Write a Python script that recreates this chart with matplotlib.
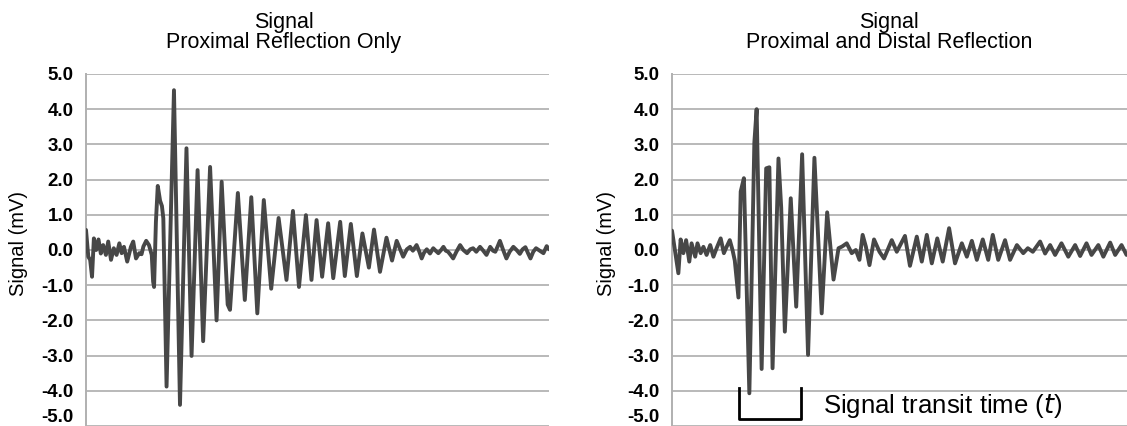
import matplotlib
matplotlib.use("Agg")
import matplotlib.pyplot as plt

plt.rcParams['font.family'] = ['Liberation Sans', 'DejaVu Sans']

# time axis (arbitrary units, 0-100 across the plot) and signal in mV
prox_t = [0.0, 0.5, 0.9, 1.3, 1.7, 2.2, 2.7, 3.2, 3.7, 4.3, 4.8, 5.4, 6.0, 6.6, 7.2, 7.7,
          8.2, 8.9, 9.7, 10.2, 10.8, 11.5, 12.0, 12.4, 13.0, 13.6, 14.2, 14.5, 14.7, 15.1,
          15.5, 16.0, 16.4, 16.7, 17.4, 19.0, 20.3, 21.7, 22.8, 24.1, 25.3, 26.8, 28.2,
          29.3, 30.6, 31.1, 32.8, 34.3, 35.7, 37.0, 38.4, 40.0, 41.6, 43.3, 44.7, 46.0,
          47.5, 48.7, 49.8, 51.0, 52.3, 53.4, 54.9, 55.9, 57.2, 58.5, 59.7, 61.1, 62.2,
          63.5, 64.9, 66.1, 67.1, 68.5, 69.3, 70.0, 70.6, 71.4, 72.0, 72.5, 73.0, 73.6,
          74.3, 75.0, 75.6, 76.1, 76.7, 77.2, 77.7, 78.2, 78.8, 79.3, 80.0, 80.8, 81.5,
          82.3, 83.0, 83.6, 84.3, 85.1, 85.8, 86.5, 87.3, 87.9, 88.4, 88.9, 89.4, 90.1,
          90.8, 91.5, 92.3, 93.0, 93.7, 94.3, 94.9, 95.5, 96.0, 96.6, 97.2, 98.0, 98.8,
          99.5, 100.0]
prox_mv = [0.57, -0.19, -0.28, -0.76, 0.33, 0.0, 0.30, -0.10, 0.14, -0.14, 0.24, -0.28,
           0.05, -0.14, 0.19, -0.09, 0.09, -0.33, 0.09, 0.24, -0.24, -0.09, -0.12, 0.10,
           0.26, 0.14, -0.14, -0.90, -1.05, 0.80, 1.82, 1.40, 1.25, 0.90, -3.88, 4.54,
           -4.40, 2.89, -3.01, 2.27, -2.59, 2.36, -2.00, 1.94, -1.55, -1.70, 1.62, -1.42,
           1.50, -1.80, 1.42, -1.10, 0.91, -0.85, 1.11, -1.05, 0.99, -0.85, 0.85, -0.76,
           0.76, -0.80, 0.80, -0.74, 0.74, -0.74, 0.47, -0.50, 0.58, -0.62, 0.35, -0.30,
           0.26, -0.19, 0.02, 0.09, -0.02, 0.14, -0.05, -0.24, -0.08, 0.02, -0.10, 0.05,
           -0.03, -0.09, 0.0, 0.09, -0.02, -0.05, -0.15, -0.24, -0.05, 0.14, 0.0, -0.09,
           0.02, 0.05, -0.05, 0.09, -0.02, -0.14, 0.09, -0.02, -0.05, 0.10, 0.26, 0.0,
           -0.24, -0.05, 0.09, 0.0, -0.11, 0.02, 0.08, -0.10, -0.24, -0.05, 0.05, -0.02,
           -0.09, 0.11, 0.02]

dist_t = [0.0, 1.4, 1.9, 2.5, 3.1, 3.8, 4.3, 5.1, 5.6, 6.3, 6.9, 7.6, 8.4, 9.1, 9.8, 10.7,
          11.4, 12.0, 12.7, 13.3, 13.8, 14.6, 15.1, 15.8, 17.0, 18.1, 18.6, 19.7, 20.7,
          21.4, 22.1, 23.4, 24.0, 24.8, 26.1, 27.3, 28.6, 29.9, 31.3, 32.9, 34.1, 35.5,
          36.6, 37.4, 38.4, 39.5, 40.4, 41.2, 41.9, 42.6, 43.4, 44.4, 45.6, 46.6, 48.3,
          49.4, 51.2, 52.3, 53.8, 54.9, 56.0, 57.1, 58.3, 59.5, 60.9, 62.2, 63.7, 64.8,
          65.9, 67.0, 68.3, 69.5, 70.5, 71.7, 73.2, 74.3, 75.8, 77.2, 78.2, 79.3, 80.9,
          82.0, 83.1, 84.2, 85.6, 87.1, 88.6, 89.7, 91.1, 92.2, 93.7, 94.8, 96.3, 97.4,
          98.8, 99.9]
dist_mv = [0.55, -0.66, 0.30, -0.09, 0.28, -0.33, 0.19, -0.19, 0.19, -0.09, 0.09, -0.14,
           0.14, -0.19, 0.05, 0.33, -0.09, 0.09, 0.28, 0.0, -0.30, -1.35, 1.66, 2.04,
           -4.07, 3.05, 4.00, -3.38, 2.32, 2.35, -3.36, 2.60, 1.20, -2.32, 1.47, -1.61,
           2.72, -2.98, 2.62, -1.80, 1.07, -0.84, 0.05, 0.10, 0.19, -0.09, 0.0, -0.28,
           0.43, 0.10, -0.43, 0.30, -0.05, -0.24, 0.28, -0.05, 0.40, -0.45, 0.38, -0.33,
           0.43, -0.38, 0.33, -0.33, 0.62, -0.38, 0.19, -0.19, 0.26, -0.28, 0.30, -0.28,
           0.43, -0.28, 0.28, -0.28, 0.14, -0.09, 0.05, -0.05, 0.24, -0.10, 0.14, -0.14,
           0.19, -0.19, 0.14, -0.17, 0.19, -0.14, 0.14, -0.19, 0.21, -0.14, 0.14, -0.14]

y_ticks = [-5, -4, -3, -2, -1, 0, 1, 2, 3, 4, 5]
y_ticklabels = ['%.1f' % v for v in y_ticks]

transit_start, transit_end = 14.7, 28.4
bracket_top, bracket_bottom = -3.92, -4.80

line_color = '#474747'
grid_color = '#b9b9b9'

fig = plt.figure(figsize=(11.27, 4.26), dpi=100)
ax1 = fig.add_axes([86 / 1127, 0.0, 463 / 1127, 352 / 426])
ax2 = fig.add_axes([672 / 1127, 0.0, 455 / 1127, 352 / 426])

panels = [
    (ax1, prox_t, prox_mv, 'Proximal Reflection Only', 284, 19),
    (ax2, dist_t, dist_mv, 'Proximal and Distal Reflection', 889, 606),
]

for ax, t, mv, subtitle, title_x, ylab_x in panels:
    for v in y_ticks:
        ax.axhline(v, color=grid_color, linewidth=1.4, zorder=1)
    ax.plot(t, mv, color=line_color, linewidth=2.8, zorder=3,
            solid_joinstyle='round', solid_capstyle='round')
    ax.set_xlim(0, 100)
    ax.set_ylim(-5, 5)
    ax.set_xticks([])
    ax.set_yticks(y_ticks)
    ax.set_yticklabels(y_ticklabels, fontsize=13.5, fontweight='bold')
    ax.tick_params(axis='y', length=0, pad=9)
    for side in ['top', 'right', 'bottom']:
        ax.spines[side].set_visible(False)
    ax.spines['left'].set_color('#b0b0b0')
    ax.spines['left'].set_linewidth(1.4)
    ax.get_yticklabels()[0].set_verticalalignment('bottom')

    fig.text(title_x / 1127, 1 - 28 / 426, 'Signal', ha='center', va='baseline', fontsize=15.5)
    fig.text(title_x / 1127, 1 - 48 / 426, subtitle, ha='center', va='baseline', fontsize=15.5)
    fig.text(ylab_x / 1127, 1 - 244 / 426, 'Signal (mV)', rotation=90,
             ha='center', va='center', fontsize=14.5)

# transit-time bracket on the right panel
ax2.plot([transit_start, transit_start, transit_end, transit_end],
         [bracket_top, bracket_bottom, bracket_bottom, bracket_top],
         color='black', linewidth=2, zorder=4, clip_on=False)
ax2.text(33.2, -4.63, 'Signal transit time ($\\mathit{t}$)', ha='left', va='baseline',
         fontsize=18.5)

fig.savefig('out.png', dpi=100)
